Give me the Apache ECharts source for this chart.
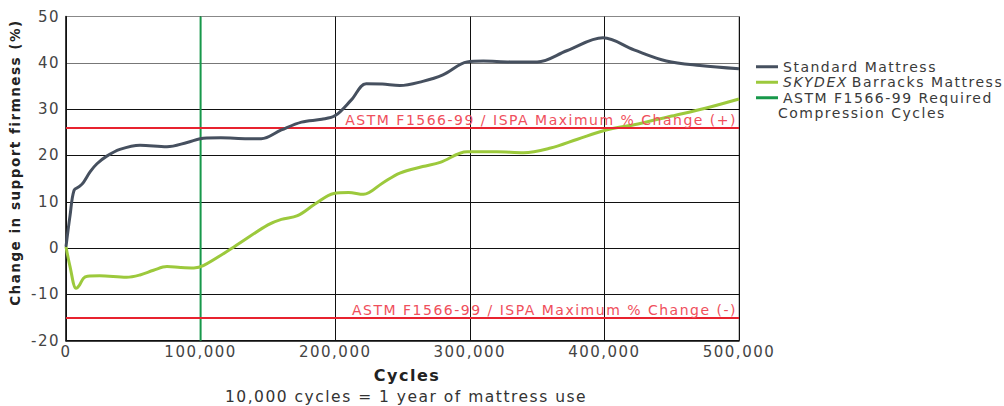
<!DOCTYPE html>
<html>
<head>
<meta charset="utf-8">
<script src="https://cdn.jsdelivr.net/npm/echarts@6/dist/echarts.min.js"></script>
<style>
  html, body { margin: 0; padding: 0; background: #fff; }
  #chart { width: 1004px; height: 406px; }
  /* 参考图字体较宽，用字间距补偿 */
  #chart text { letter-spacing: 1.5px; }
</style>
</head>
<body>
<div id="chart"></div>
<script>
// 数据：循环次数(x) 与 支撑硬度变化(%)
var standardData = [
  [0, 0.3], [3000, 7], [6000, 12.5], [10000, 13.3], [13000, 14.2], [18000, 16.5],
  [23000, 18.2], [30000, 19.8], [40000, 21.3], [55000, 22.2], [75000, 21.9],
  [90000, 22.8], [102000, 23.7], [115000, 23.8], [135000, 23.6], [145000, 23.6],
  [160000, 25.5], [175000, 27.2], [190000, 27.8], [200000, 28.6], [212000, 32],
  [223000, 35.5], [235000, 35.4], [248000, 35.1], [265000, 36], [280000, 37.4],
  [298000, 40.2], [310000, 40.4], [330000, 40.2], [350000, 40.2], [372000, 42.6],
  [399000, 45.4], [422000, 42.8], [446000, 40.4], [471000, 39.4], [500000, 38.7]
];
var skydexData = [
  [0, 0.3], [3000, -4], [7500, -8.7], [10000, -8], [13000, -6.5], [16000, -6.1],
  [25000, -6.0], [45000, -6.3], [55000, -5.8], [65000, -4.8], [75000, -4.0],
  [85000, -4.2], [95000, -4.3], [102000, -3.8], [125000, 0.3], [150000, 5.0],
  [160000, 6.2], [172000, 7.0], [185000, 9.5], [199000, 11.8], [210000, 12],
  [221000, 11.6], [235000, 14], [248000, 16.2], [265000, 17.6], [278000, 18.5],
  [298000, 20.8], [320000, 20.8], [340000, 20.6], [360000, 21.6], [380000, 23.5],
  [400000, 25.4], [425000, 26.8], [450000, 28.5], [475000, 30.2], [500000, 32.2]
];
var requiredCycles = 100000;       // ASTM 要求的压缩次数
var maxChangePlus = 26;            // 最大允许变化 (+)
var maxChangeMinus = -15;          // 最大允许变化 (-)
var seriesNames = ['Standard Mattress', 'SKYDEX Barracks Mattress', 'ASTM F1566-99 Required'];
var xTicks = { min: 0, max: 500000, interval: 100000 };
var yTicks = { min: -20, max: 50, interval: 10 };

var FONT = 'DejaVu Sans';
var myChart = echarts.init(document.getElementById('chart'), null, { renderer: 'svg' });
var option = {
  animation: false,
  textStyle: { fontFamily: FONT },
  title: [{
    text: 'Cycles',
    left: 402, top: 362, textAlign: 'center',
    textStyle: { fontFamily: FONT, fontSize: 16, fontWeight: 'bold', color: '#222' }
  }, {
    text: '10,000 cycles = 1 year of mattress use',
    left: 401, top: 384, textAlign: 'center',
    textStyle: { fontFamily: FONT, fontSize: 15.5, fontWeight: 'normal', color: '#333' }
  }],
  legend: {
    orient: 'vertical',
    left: 751, top: 54,
    itemWidth: 22, itemHeight: 3, itemGap: 0,
    icon: 'rect',
    data: seriesNames,
    textStyle: {
      fontFamily: FONT, fontSize: 14, color: '#3a3a3a', lineHeight: 15.5,
      rich: {
        // 字间距不计入测量，斜体段右侧补一点空隙
        i: { fontStyle: 'italic', fontFamily: FONT, fontSize: 14, color: '#3a3a3a', lineHeight: 15.5, padding: [0, 13, 0, 0] },
        n: { fontFamily: FONT, fontSize: 14, color: '#3a3a3a', lineHeight: 15.5 }
      }
    },
    formatter: function (name) {
      if (name === 'SKYDEX Barracks Mattress') return '{i|SKYDEX}{n|Barracks Mattress}';
      return name;
    }
  },
  graphic: [{
    type: 'text', left: 778, top: 106,
    style: { text: 'Compression Cycles', font: '14px "DejaVu Sans"', fill: '#3a3a3a' }
  }],
  grid: { left: 65, right: 265, top: 16.5, bottom: 65.3, show: true, borderColor: '#888', borderWidth: 1 },
  xAxis: {
    type: 'value', min: xTicks.min, max: xTicks.max, interval: xTicks.interval,
    axisLine: { show: true, onZero: false, lineStyle: { color: '#111', width: 1.5 } },
    axisTick: { show: false },
    axisLabel: {
      color: '#444', fontSize: 15, margin: 4,
      formatter: function (v) { return v === 0 ? '0' : v.toLocaleString('en-US'); }
    },
    splitLine: { show: true, lineStyle: { color: '#111', width: 1 } }
  },
  yAxis: {
    type: 'value', min: yTicks.min, max: yTicks.max, interval: yTicks.interval,
    name: 'Change in support firmness (%)',
    nameLocation: 'middle', nameGap: 44, nameRotate: 90,
    nameTextStyle: { fontFamily: FONT, fontSize: 13.5, fontWeight: 'bold', color: '#222', padding: [0, 0, 0, 32] },
    axisLine: { show: true, onZero: false, lineStyle: { color: '#111', width: 1.5 } },
    axisTick: { show: false },
    axisLabel: { color: '#444', fontSize: 15, margin: 6 },
    splitLine: { show: true, lineStyle: { color: ['#111', '#111', '#111', '#111', '#111', '#111', '#777', '#888'], width: 1 } }
  },
  series: [{
    name: seriesNames[2],
    type: 'line',
    data: [[requiredCycles, yTicks.min], [requiredCycles, yTicks.max]],
    showSymbol: false,
    color: '#17984a',
    lineStyle: { width: 2, color: '#17984a' },
    z: 3,
    markLine: {
      silent: true, symbol: 'none',
      lineStyle: { color: '#e8232f', width: 2, type: 'solid' },
      label: {
        position: 'insideEndTop', color: '#ef4f5c', fontSize: 14, fontFamily: FONT,
        distance: [2, 1]
      },
      data: [
        { yAxis: maxChangePlus, label: { formatter: 'ASTM F1566-99 / ISPA Maximum % Change (+)' } },
        { yAxis: maxChangeMinus, label: { formatter: 'ASTM F1566-99 / ISPA Maximum % Change (-)' } }
      ]
    }
  }, {
    name: seriesNames[0],
    type: 'line',
    data: standardData,
    smooth: 0.35,
    showSymbol: false,
    color: '#46505f',
    lineStyle: { width: 3, color: '#46505f' },
    z: 5
  }, {
    name: seriesNames[1],
    type: 'line',
    data: skydexData,
    smooth: 0.35,
    showSymbol: false,
    color: '#9cc93c',
    lineStyle: { width: 3, color: '#9cc93c' },
    z: 4
  }]
};
myChart.setOption(option);
</script>
</body>
</html>
